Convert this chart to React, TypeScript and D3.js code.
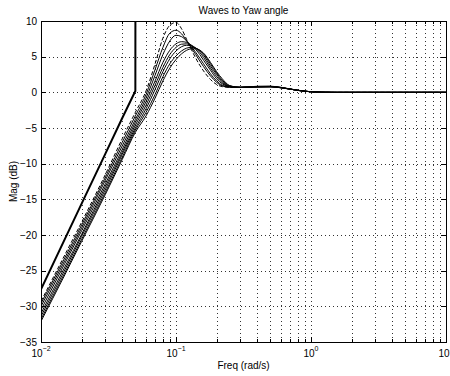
import React from "react";
import * as d3 from "d3";

const TITLE = "Waves to Yaw angle";
const X_LABEL = "Freq (rad/s)";
const Y_LABEL = "Mag (dB)";
const Y_TICKS = [-35, -30, -25, -20, -15, -10, -5, 0, 5, 10];
const X_DECADES = [-2, -1, 0, 1];

const FREQ = [0.01, 0.015, 0.02, 0.03, 0.04, 0.05, 0.06, 0.07, 0.08, 0.09, 0.1, 0.11, 0.12, 0.13, 0.14, 0.15, 0.16, 0.18, 0.2, 0.22, 0.25, 0.3, 0.4, 0.5, 0.6, 0.7, 0.8, 1.0, 1.2, 1.5, 2, 5, 10];

const MAG_DASHED = [-29.3, -22.8, -18.2, -11.5, -6.5, -2.8, 0.2, 4.0, 7.6, 9.4, 9.8, 8.9, 7.4, 6.0, 4.8, 3.8, 3.0, 1.8, 1.1, 0.8, 0.7, 0.68, 0.8, 0.82, 0.66, 0.46, 0.28, 0.08, 0.02, 0, 0, 0, 0];
const MAG_S1 = [-29.6, -23.2, -18.6, -11.9, -7.0, -3.3, -0.3, 3.2, 6.3, 8.3, 8.7, 8.2, 7.2, 6.2, 5.3, 4.4, 3.6, 2.3, 1.4, 0.9, 0.72, 0.68, 0.82, 0.84, 0.68, 0.46, 0.28, 0.08, 0.02, 0, 0, 0, 0];
const MAG_S2 = [-30.0, -23.6, -19.0, -12.3, -7.5, -3.8, -0.8, 2.4, 5.3, 7.2, 8.0, 7.8, 7.2, 6.4, 5.6, 4.8, 4.0, 2.6, 1.6, 1.0, 0.74, 0.7, 0.85, 0.86, 0.7, 0.48, 0.3, 0.09, 0.02, 0, 0, 0, 0];
const MAG_S3 = [-30.5, -24.0, -19.4, -12.8, -8.0, -4.2, -1.3, 1.6, 4.2, 5.9, 6.8, 7.1, 7.0, 6.6, 6.0, 5.3, 4.5, 3.1, 1.9, 1.2, 0.78, 0.7, 0.8, 0.8, 0.66, 0.46, 0.28, 0.08, 0.02, 0, 0, 0, 0];
const MAG_S4 = [-31.0, -24.5, -19.9, -13.2, -8.4, -4.6, -1.8, 1.0, 3.5, 5.3, 6.3, 6.75, 6.8, 6.6, 6.2, 5.6, 4.9, 3.4, 2.2, 1.35, 0.82, 0.7, 0.78, 0.8, 0.66, 0.46, 0.28, 0.08, 0.02, 0, 0, 0, 0];
const MAG_S5 = [-31.4, -24.9, -20.2, -13.6, -8.7, -5.0, -2.3, 0.4, 2.9, 4.7, 5.8, 6.4, 6.6, 6.5, 6.2, 5.8, 5.2, 3.7, 2.5, 1.5, 0.86, 0.7, 0.76, 0.78, 0.64, 0.45, 0.27, 0.08, 0.02, 0, 0, 0, 0];
const MAG_S6 = [-31.8, -25.3, -20.6, -14.0, -9.1, -5.3, -2.8, -0.3, 2.2, 4.0, 5.1, 5.8, 6.2, 6.3, 6.2, 5.9, 5.4, 4.0, 2.7, 1.7, 0.9, 0.7, 0.75, 0.78, 0.64, 0.45, 0.27, 0.08, 0.02, 0, 0, 0, 0];
const MAG_S7 = [-32.1, -25.6, -20.9, -14.3, -9.4, -5.6, -3.3, -0.8, 1.6, 3.4, 4.6, 5.4, 5.9, 6.1, 6.1, 5.9, 5.5, 4.2, 2.9, 1.9, 0.95, 0.7, 0.75, 0.78, 0.64, 0.45, 0.27, 0.08, 0.02, 0, 0, 0, 0];

const BOLD_FREQ = [0.01, 0.02, 0.03, 0.04, 0.05, 0.0502];
const BOLD_MAG = [-27.6, -15.6, -8.6, -3.6, 0.2, 60];

const W = 450;
const H = 376;
const L = 41, R = 446, T = 21, B = 342;
const FONT = "'Liberation Sans', Arial, Helvetica, sans-serif";

export default function App() {
  const x = d3.scaleLog().domain([0.01, 10]).range([L, R]);
  const y = d3.scaleLinear().domain([-35, 10]).range([B, T]);

  const thin = [MAG_S1, MAG_S2, MAG_S3, MAG_S4, MAG_S5, MAG_S6, MAG_S7];

  const line = d3
    .line<[number, number]>()
    .x((d) => x(d[0]))
    .y((d) => y(d[1]))
    .curve(d3.curveMonotoneX);
  const lineLin = d3
    .line<[number, number]>()
    .x((d) => x(d[0]))
    .y((d) => y(d[1]));

  const toPts = (f: number[], m: number[]) => f.map((v, i) => [v, m[i]] as [number, number]);

  const minorX: number[] = [];
  for (let e = -2; e < 1; e++) {
    for (let k = 1; k <= 9; k++) minorX.push(k * Math.pow(10, e));
  }
  minorX.push(10);

  const fmt = (v: number) => (v < 0 ? "\u2212" + Math.abs(v) : String(v));

  return (
    <svg
      width={W}
      height={H}
      style={{ position: "absolute", left: 0, top: 0, background: "#fff" }}
      fontFamily={FONT}
    >
      <defs>
        <clipPath id="plotclip">
          <rect x={L} y={T} width={R - L} height={B - T} />
        </clipPath>
      </defs>
      <rect x={0} y={0} width={W} height={H} fill="#fff" />
      {/* grid */}
      <g stroke="#333" strokeWidth={1} strokeDasharray="1,3" shapeRendering="crispEdges">
        {minorX.map((f, i) => (
          <line key={"gx" + i} x1={Math.round(x(f)) + 0.5} x2={Math.round(x(f)) + 0.5} y1={T} y2={B} />
        ))}
        {Y_TICKS.map((v) => (
          <line key={"gy" + v} x1={L} x2={R} y1={Math.round(y(v)) + 0.5} y2={Math.round(y(v)) + 0.5} />
        ))}
      </g>
      {/* curves */}
      <g clipPath="url(#plotclip)" fill="none" stroke="#000">
        {thin.map((m, i) => (
          <path key={"c" + i} d={line(toPts(FREQ, m)) || ""} strokeWidth={1} />
        ))}
        <path d={line(toPts(FREQ, MAG_DASHED)) || ""} strokeWidth={1} strokeDasharray="4,2" />
        <path d={lineLin(toPts(BOLD_FREQ, BOLD_MAG)) || ""} strokeWidth={2} />
      </g>
      {/* ticks */}
      <g stroke="#000" strokeWidth={1} shapeRendering="crispEdges">
        {minorX.map((f, i) => {
          const isMajor = Math.abs(Math.log10(f) - Math.round(Math.log10(f))) < 1e-9;
          const len = isMajor ? 5 : 3;
          const xx = Math.round(x(f)) + 0.5;
          return (
            <g key={"tx" + i}>
              <line x1={xx} x2={xx} y1={B} y2={B - len} />
              <line x1={xx} x2={xx} y1={T} y2={T + len} />
            </g>
          );
        })}
        {Y_TICKS.map((v) => {
          const yy = Math.round(y(v)) + 0.5;
          return (
            <g key={"ty" + v}>
              <line x1={L} x2={L + 5} y1={yy} y2={yy} />
              <line x1={R} x2={R - 5} y1={yy} y2={yy} />
            </g>
          );
        })}
      </g>
      {/* box */}
      <rect x={L + 0.5} y={T + 0.5} width={R - L} height={B - T} fill="none" stroke="#000" strokeWidth={1} shapeRendering="crispEdges" />
      {/* y tick labels */}
      <g fontSize={10} textAnchor="end" fill="#000">
        {Y_TICKS.map((v) => (
          <text key={"yl" + v} x={L - 4} y={y(v) + 3.5}>
            {fmt(v)}
          </text>
        ))}
      </g>
      {/* x tick labels */}
      <g fontSize={10} textAnchor="middle" fill="#000">
        {X_DECADES.map((e) => (
          <text key={"xl" + e} x={x(Math.pow(10, e))} y={357}>
            <tspan>10</tspan>
            <tspan dy={-6} fontSize={7}>{fmt(e)}</tspan>
          </text>
        ))}
      </g>
      <text x={(L + R) / 2} y={13.5} fontSize={10} textAnchor="middle">
        {TITLE}
      </text>
      <text x={(L + R) / 2} y={369} fontSize={10} textAnchor="middle">
        {X_LABEL}
      </text>
      <text transform={`translate(16.5, ${(T + B) / 2}) rotate(-90)`} fontSize={10} textAnchor="middle">
        {Y_LABEL}
      </text>
    </svg>
  );
}
